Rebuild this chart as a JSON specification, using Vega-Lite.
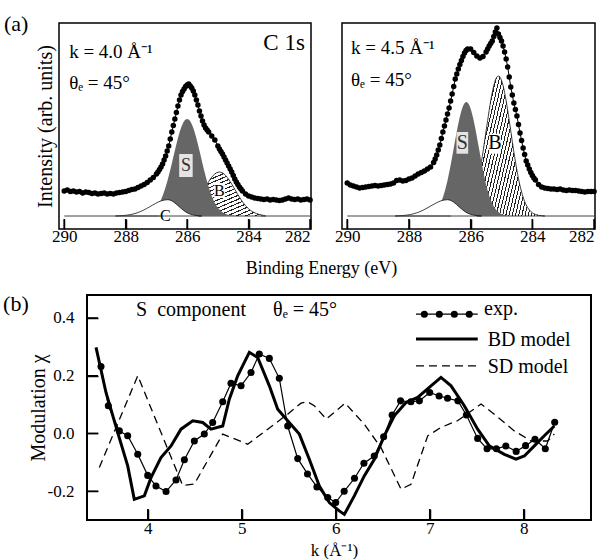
{
  "$schema": "https://vega.github.io/schema/vega-lite/v6.json",
  "background": "white",
  "padding": {"left": 2, "top": 12, "right": 0, "bottom": 0},
  "config": {
    "font": "Liberation Serif",
    "view": {"stroke": "black", "strokeWidth": 1.5},
    "axis": {"labelFont": "Liberation Serif", "titleFont": "Liberation Serif", "labelColor": "black", "titleColor": "black", "tickColor": "black", "titleFontWeight": "normal", "domain": false, "grid": false, "zindex": 1},
    "text": {"font": "Liberation Serif", "fill": "black"}
  },
  "datasets": {
    "a1e": [
      {"e":290.0,"i":38},{"e":289.9,"i":39},{"e":289.8,"i":37.5},{"e":289.7,"i":38},{"e":289.6,"i":37},{"e":289.5,"i":37.5},{"e":289.4,"i":36},{"e":289.3,"i":37},{"e":289.2,"i":36.5},{"e":289.1,"i":35.5},{"e":289.0,"i":36},{"e":288.9,"i":35},{"e":288.8,"i":35.5},{"e":288.7,"i":36},{"e":288.6,"i":35},{"e":288.5,"i":35.5},{"e":288.4,"i":35},{"e":288.3,"i":36},{"e":288.2,"i":36.5},{"e":288.1,"i":37},{"e":288.0,"i":37.5},{"e":287.9,"i":38.5},{"e":287.8,"i":39.5},{"e":287.7,"i":40},{"e":287.6,"i":41.5},{"e":287.5,"i":43},{"e":287.4,"i":44.5},{"e":287.3,"i":46.5},{"e":287.2,"i":49},{"e":287.1,"i":51.5},{"e":287.0,"i":55},{"e":286.95,"i":57},{"e":286.9,"i":59.5},{"e":286.85,"i":62},{"e":286.8,"i":65},{"e":286.75,"i":69},{"e":286.7,"i":73},{"e":286.65,"i":78},{"e":286.6,"i":83},{"e":286.55,"i":90},{"e":286.5,"i":97},{"e":286.45,"i":103.5},{"e":286.4,"i":110},{"e":286.35,"i":116.5},{"e":286.3,"i":123},{"e":286.25,"i":129},{"e":286.2,"i":134},{"e":286.15,"i":137.5},{"e":286.1,"i":140},{"e":286.05,"i":142.5},{"e":286.0,"i":144},{"e":285.95,"i":145},{"e":285.9,"i":143},{"e":285.85,"i":141},{"e":285.8,"i":138},{"e":285.75,"i":134},{"e":285.7,"i":129},{"e":285.65,"i":124},{"e":285.6,"i":118},{"e":285.55,"i":113},{"e":285.5,"i":108},{"e":285.45,"i":104},{"e":285.4,"i":101},{"e":285.35,"i":99},{"e":285.3,"i":97},{"e":285.2,"i":93},{"e":285.1,"i":89},{"e":285.0,"i":83},{"e":284.95,"i":80},{"e":284.9,"i":77.5},{"e":284.85,"i":75},{"e":284.8,"i":72},{"e":284.75,"i":69},{"e":284.7,"i":66},{"e":284.65,"i":63},{"e":284.6,"i":60},{"e":284.55,"i":57},{"e":284.5,"i":53.5},{"e":284.45,"i":50},{"e":284.4,"i":47},{"e":284.35,"i":44.5},{"e":284.3,"i":42},{"e":284.25,"i":40},{"e":284.2,"i":38},{"e":284.1,"i":35},{"e":284.0,"i":33},{"e":283.9,"i":32},{"e":283.8,"i":31},{"e":283.7,"i":30.5},{"e":283.6,"i":30},{"e":283.5,"i":29.5},{"e":283.4,"i":30},{"e":283.3,"i":29},{"e":283.2,"i":29.5},{"e":283.1,"i":29},{"e":283.0,"i":28.5},{"e":282.9,"i":29},{"e":282.8,"i":30},{"e":282.7,"i":31},{"e":282.6,"i":30},{"e":282.5,"i":29.5},{"e":282.4,"i":30},{"e":282.3,"i":29},{"e":282.2,"i":29.5},{"e":282.1,"i":30},{"e":282.0,"i":29}
    ],
    "a2e": [
      {"e":290.0,"i":46},{"e":289.9,"i":44},{"e":289.8,"i":43},{"e":289.7,"i":42},{"e":289.6,"i":41},{"e":289.5,"i":41.5},{"e":289.4,"i":42},{"e":289.3,"i":42.5},{"e":289.2,"i":43},{"e":289.1,"i":43.5},{"e":289.0,"i":43},{"e":288.9,"i":43.5},{"e":288.8,"i":44},{"e":288.7,"i":44.5},{"e":288.6,"i":45},{"e":288.5,"i":46},{"e":288.4,"i":48.5},{"e":288.3,"i":49},{"e":288.2,"i":48},{"e":288.1,"i":48.5},{"e":288.0,"i":50},{"e":287.9,"i":51},{"e":287.8,"i":53},{"e":287.7,"i":55},{"e":287.6,"i":56.5},{"e":287.5,"i":58},{"e":287.4,"i":60},{"e":287.3,"i":62},{"e":287.2,"i":66.5},{"e":287.15,"i":70},{"e":287.1,"i":74},{"e":287.05,"i":79},{"e":287.0,"i":84},{"e":286.95,"i":90.5},{"e":286.9,"i":97},{"e":286.85,"i":103},{"e":286.8,"i":109},{"e":286.75,"i":115},{"e":286.7,"i":121},{"e":286.65,"i":128},{"e":286.6,"i":135},{"e":286.55,"i":142.5},{"e":286.5,"i":150},{"e":286.45,"i":155},{"e":286.4,"i":160},{"e":286.35,"i":164.5},{"e":286.3,"i":168.5},{"e":286.25,"i":172.5},{"e":286.2,"i":176},{"e":286.15,"i":178.5},{"e":286.1,"i":180},{"e":286.0,"i":180},{"e":285.9,"i":176.5},{"e":285.8,"i":173},{"e":285.7,"i":171},{"e":285.6,"i":172.5},{"e":285.5,"i":177},{"e":285.45,"i":180},{"e":285.4,"i":183},{"e":285.35,"i":185.5},{"e":285.3,"i":188},{"e":285.25,"i":192.5},{"e":285.2,"i":197},{"e":285.15,"i":201},{"e":285.1,"i":195},{"e":285.05,"i":191.5},{"e":285.0,"i":188},{"e":284.95,"i":183},{"e":284.9,"i":177},{"e":284.85,"i":170},{"e":284.8,"i":162},{"e":284.75,"i":152},{"e":284.7,"i":142},{"e":284.65,"i":134},{"e":284.6,"i":126},{"e":284.55,"i":119.5},{"e":284.5,"i":113},{"e":284.45,"i":104.5},{"e":284.4,"i":96},{"e":284.35,"i":88.5},{"e":284.3,"i":81},{"e":284.25,"i":74.5},{"e":284.2,"i":68},{"e":284.15,"i":64},{"e":284.1,"i":60},{"e":284.05,"i":56.5},{"e":284.0,"i":53.5},{"e":283.95,"i":51},{"e":283.9,"i":49},{"e":283.8,"i":44.5},{"e":283.7,"i":42},{"e":283.6,"i":41},{"e":283.5,"i":40.5},{"e":283.4,"i":40},{"e":283.3,"i":40},{"e":283.2,"i":39.5},{"e":283.1,"i":40},{"e":283.0,"i":39},{"e":282.9,"i":38.5},{"e":282.8,"i":39},{"e":282.7,"i":38.5},{"e":282.6,"i":38.5},{"e":282.5,"i":38},{"e":282.4,"i":37.5},{"e":282.3,"i":37},{"e":282.2,"i":37.5},{"e":282.1,"i":37.5},{"e":282.0,"i":37.5}
    ],
    "a1c": [
      {"c":"S","e":287.6,"i":13},{"c":"S","e":287.5,"i":13.4},{"c":"S","e":287.4,"i":13.8},{"c":"S","e":287.3,"i":14.5},{"c":"S","e":287.2,"i":15.8},{"c":"S","e":287.1,"i":17.9},{"c":"S","e":287.0,"i":21.2},{"c":"S","e":286.9,"i":26.1},{"c":"S","e":286.8,"i":33},{"c":"S","e":286.7,"i":41.9},{"c":"S","e":286.6,"i":52.9},{"c":"S","e":286.5,"i":65.3},{"c":"S","e":286.4,"i":78.4},{"c":"S","e":286.3,"i":90.7},{"c":"S","e":286.2,"i":100.9},{"c":"S","e":286.1,"i":107.7},{"c":"S","e":286.0,"i":110},{"c":"S","e":285.9,"i":107.7},{"c":"S","e":285.8,"i":100.9},{"c":"S","e":285.7,"i":90.7},{"c":"S","e":285.6,"i":78.4},{"c":"S","e":285.5,"i":65.3},{"c":"S","e":285.4,"i":52.9},{"c":"S","e":285.3,"i":41.9},{"c":"S","e":285.2,"i":33},{"c":"S","e":285.1,"i":26.1},{"c":"S","e":285.0,"i":21.2},{"c":"S","e":284.9,"i":17.9},{"c":"S","e":284.8,"i":15.8},{"c":"S","e":284.7,"i":14.5},{"c":"S","e":284.6,"i":13.8},{"c":"S","e":284.5,"i":13.4},{"c":"S","e":284.4,"i":13},
      {"c":"B","e":285.65,"i":29.5},{"c":"B","e":285.55,"i":34.4},{"c":"B","e":285.45,"i":39.7},{"c":"B","e":285.35,"i":44.9},{"c":"B","e":285.25,"i":49.7},{"c":"B","e":285.15,"i":53.6},{"c":"B","e":285.05,"i":56.1},{"c":"B","e":284.95,"i":57},{"c":"B","e":284.85,"i":56.1},{"c":"B","e":284.75,"i":53.6},{"c":"B","e":284.65,"i":49.7},{"c":"B","e":284.55,"i":44.9},{"c":"B","e":284.45,"i":39.7},{"c":"B","e":284.35,"i":34.4},{"c":"B","e":284.25,"i":29.5},{"c":"B","e":284.15,"i":25.2},{"c":"B","e":284.05,"i":21.7},{"c":"B","e":283.95,"i":18.9},{"c":"B","e":283.85,"i":16.9},{"c":"B","e":283.75,"i":15.5},{"c":"B","e":283.65,"i":14.5},{"c":"B","e":283.55,"i":13.9},{"c":"B","e":283.45,"i":13},
      {"c":"C","e":288.33,"i":13},{"c":"C","e":288.23,"i":13.2},{"c":"C","e":288.13,"i":13.4},{"c":"C","e":288.03,"i":13.6},{"c":"C","e":287.93,"i":14.0},{"c":"C","e":287.83,"i":14.5},{"c":"C","e":287.73,"i":15.2},{"c":"C","e":287.63,"i":16.1},{"c":"C","e":287.53,"i":17.3},{"c":"C","e":287.43,"i":18.7},{"c":"C","e":287.33,"i":20.3},{"c":"C","e":287.23,"i":22.0},{"c":"C","e":287.13,"i":23.8},{"c":"C","e":287.03,"i":25.5},{"c":"C","e":286.93,"i":27.1},{"c":"C","e":286.83,"i":28.3},{"c":"C","e":286.73,"i":29.0},{"c":"C","e":286.63,"i":29.3},{"c":"C","e":286.53,"i":28.6},{"c":"C","e":286.43,"i":26.8},{"c":"C","e":286.33,"i":24.3},{"c":"C","e":286.23,"i":21.5},{"c":"C","e":286.13,"i":18.9},{"c":"C","e":286.03,"i":16.7},{"c":"C","e":285.93,"i":15.2},{"c":"C","e":285.83,"i":14.2},{"c":"C","e":285.73,"i":13.6},{"c":"C","e":285.63,"i":13.3},{"c":"C","e":285.53,"i":13}
    ],
    "a2c": [
      {"c":"S","e":287.64,"i":13},{"c":"S","e":287.54,"i":13.3},{"c":"S","e":287.44,"i":13.6},{"c":"S","e":287.34,"i":14.3},{"c":"S","e":287.24,"i":15.6},{"c":"S","e":287.14,"i":18},{"c":"S","e":287.04,"i":22.1},{"c":"S","e":286.94,"i":28.4},{"c":"S","e":286.84,"i":37.6},{"c":"S","e":286.74,"i":50.1},{"c":"S","e":286.64,"i":65.2},{"c":"S","e":286.54,"i":82.2},{"c":"S","e":286.44,"i":99.1},{"c":"S","e":286.34,"i":113.5},{"c":"S","e":286.24,"i":123.5},{"c":"S","e":286.14,"i":127},{"c":"S","e":286.04,"i":123.5},{"c":"S","e":285.94,"i":113.5},{"c":"S","e":285.84,"i":99.1},{"c":"S","e":285.74,"i":82.2},{"c":"S","e":285.64,"i":65.2},{"c":"S","e":285.54,"i":50.1},{"c":"S","e":285.44,"i":37.6},{"c":"S","e":285.34,"i":28.4},{"c":"S","e":285.24,"i":22.1},{"c":"S","e":285.14,"i":18},{"c":"S","e":285.04,"i":15.6},{"c":"S","e":284.94,"i":14.3},{"c":"S","e":284.84,"i":13.6},{"c":"S","e":284.74,"i":13.3},{"c":"S","e":284.64,"i":13},
      {"c":"B","e":285.8,"i":43.2},{"c":"B","e":285.7,"i":58.5},{"c":"B","e":285.6,"i":77.1},{"c":"B","e":285.5,"i":98},{"c":"B","e":285.4,"i":118.7},{"c":"B","e":285.3,"i":136.5},{"c":"B","e":285.2,"i":148.7},{"c":"B","e":285.1,"i":153},{"c":"B","e":285.0,"i":148.7},{"c":"B","e":284.9,"i":136.5},{"c":"B","e":284.8,"i":118.7},{"c":"B","e":284.7,"i":98},{"c":"B","e":284.6,"i":77.1},{"c":"B","e":284.5,"i":58.5},{"c":"B","e":284.4,"i":43.2},{"c":"B","e":284.3,"i":31.9},{"c":"B","e":284.2,"i":24.1},{"c":"B","e":284.1,"i":19.1},{"c":"B","e":284.0,"i":16.2},{"c":"B","e":283.9,"i":14.6},{"c":"B","e":283.8,"i":13.7},{"c":"B","e":283.7,"i":13.3},{"c":"B","e":283.6,"i":13},
      {"c":"C","e":288.45,"i":13},{"c":"C","e":288.35,"i":13.2},{"c":"C","e":288.25,"i":13.4},{"c":"C","e":288.15,"i":13.6},{"c":"C","e":288.05,"i":14.0},{"c":"C","e":287.95,"i":14.5},{"c":"C","e":287.85,"i":15.2},{"c":"C","e":287.75,"i":16.1},{"c":"C","e":287.65,"i":17.3},{"c":"C","e":287.55,"i":18.7},{"c":"C","e":287.45,"i":20.3},{"c":"C","e":287.35,"i":22.0},{"c":"C","e":287.25,"i":23.8},{"c":"C","e":287.15,"i":25.5},{"c":"C","e":287.05,"i":27.1},{"c":"C","e":286.95,"i":28.3},{"c":"C","e":286.85,"i":29.0},{"c":"C","e":286.75,"i":29.3},{"c":"C","e":286.65,"i":28.6},{"c":"C","e":286.55,"i":26.8},{"c":"C","e":286.45,"i":24.3},{"c":"C","e":286.35,"i":21.5},{"c":"C","e":286.25,"i":18.9},{"c":"C","e":286.15,"i":16.7},{"c":"C","e":286.05,"i":15.2},{"c":"C","e":285.95,"i":14.2},{"c":"C","e":285.85,"i":13.6},{"c":"C","e":285.75,"i":13.3},{"c":"C","e":285.65,"i":13}
    ],
    "a1base": [{"e1":290.0,"e2":286.9},{"e1":283.6,"e2":281.98}],
    "a2base": [{"e1":290.0,"e2":286.64},{"e1":283.65,"e2":281.98}],
    "aticks": [{"v":290},{"v":288},{"v":286},{"v":284},{"v":282}],
    "bxticks": [{"v":4},{"v":5},{"v":6},{"v":7},{"v":8}],
    "byticks": [{"v":-0.2},{"v":0},{"v":0.2},{"v":0.4}],
    "b": [
      {"s":"exp","k":3.503,"chi":0.232},{"s":"exp","k":3.581,"chi":0.096},{"s":"exp","k":3.698,"chi":0.009},{"s":"exp","k":3.787,"chi":-0.008},{"s":"exp","k":3.894,"chi":-0.072},{"s":"exp","k":4.0,"chi":-0.145},{"s":"exp","k":4.088,"chi":-0.182},{"s":"exp","k":4.195,"chi":-0.201},{"s":"exp","k":4.301,"chi":-0.161},{"s":"exp","k":4.39,"chi":-0.091},{"s":"exp","k":4.496,"chi":-0.026},{"s":"exp","k":4.602,"chi":-0.002},{"s":"exp","k":4.691,"chi":0.038},{"s":"exp","k":4.798,"chi":0.110},{"s":"exp","k":4.886,"chi":0.174},{"s":"exp","k":4.993,"chi":0.165},{"s":"exp","k":5.099,"chi":0.211},{"s":"exp","k":5.187,"chi":0.275},{"s":"exp","k":5.294,"chi":0.260},{"s":"exp","k":5.40,"chi":0.191},{"s":"exp","k":5.489,"chi":0.026},{"s":"exp","k":5.596,"chi":-0.087},{"s":"exp","k":5.70,"chi":-0.140},{"s":"exp","k":5.80,"chi":-0.185},{"s":"exp","k":5.915,"chi":-0.222},{"s":"exp","k":6.0,"chi":-0.239},{"s":"exp","k":6.09,"chi":-0.200},{"s":"exp","k":6.2,"chi":-0.155},{"s":"exp","k":6.3,"chi":-0.103},{"s":"exp","k":6.41,"chi":-0.078},{"s":"exp","k":6.51,"chi":-0.011},{"s":"exp","k":6.6,"chi":0.064},{"s":"exp","k":6.69,"chi":0.113},{"s":"exp","k":6.80,"chi":0.110},{"s":"exp","k":6.89,"chi":0.113},{"s":"exp","k":7.0,"chi":0.142},{"s":"exp","k":7.1,"chi":0.130},{"s":"exp","k":7.19,"chi":0.122},{"s":"exp","k":7.3,"chi":0.113},{"s":"exp","k":7.39,"chi":0.064},{"s":"exp","k":7.51,"chi":-0.017},{"s":"exp","k":7.61,"chi":-0.053},{"s":"exp","k":7.71,"chi":-0.053},{"s":"exp","k":7.81,"chi":-0.043},{"s":"exp","k":7.92,"chi":-0.062},{"s":"exp","k":8.02,"chi":-0.042},{"s":"exp","k":8.12,"chi":-0.020},{"s":"exp","k":8.23,"chi":-0.053},{"s":"exp","k":8.33,"chi":0.039},
      {"s":"BD","k":3.45,"chi":0.298},{"s":"BD","k":3.556,"chi":0.142},{"s":"BD","k":3.681,"chi":0.003},{"s":"BD","k":3.787,"chi":-0.112},{"s":"BD","k":3.857,"chi":-0.228},{"s":"BD","k":3.964,"chi":-0.216},{"s":"BD","k":4.035,"chi":-0.153},{"s":"BD","k":4.141,"chi":-0.083},{"s":"BD","k":4.248,"chi":-0.043},{"s":"BD","k":4.354,"chi":0.015},{"s":"BD","k":4.479,"chi":0.044},{"s":"BD","k":4.585,"chi":0.038},{"s":"BD","k":4.673,"chi":0.015},{"s":"BD","k":4.798,"chi":0.026},{"s":"BD","k":4.868,"chi":0.119},{"s":"BD","k":4.957,"chi":0.200},{"s":"BD","k":5.081,"chi":0.281},{"s":"BD","k":5.17,"chi":0.263},{"s":"BD","k":5.294,"chi":0.165},{"s":"BD","k":5.383,"chi":0.084},{"s":"BD","k":5.489,"chi":0.044},{"s":"BD","k":5.613,"chi":-0.002},{"s":"BD","k":5.719,"chi":-0.089},{"s":"BD","k":5.826,"chi":-0.182},{"s":"BD","k":5.932,"chi":-0.239},{"s":"BD","k":6.038,"chi":-0.268},{"s":"BD","k":6.092,"chi":-0.280},{"s":"BD","k":6.198,"chi":-0.216},{"s":"BD","k":6.304,"chi":-0.147},{"s":"BD","k":6.411,"chi":-0.089},{"s":"BD","k":6.517,"chi":-0.008},{"s":"BD","k":6.623,"chi":0.061},{"s":"BD","k":6.748,"chi":0.107},{"s":"BD","k":6.872,"chi":0.125},{"s":"BD","k":7.014,"chi":0.165},{"s":"BD","k":7.12,"chi":0.194},{"s":"BD","k":7.227,"chi":0.165},{"s":"BD","k":7.368,"chi":0.096},{"s":"BD","k":7.51,"chi":0.015},{"s":"BD","k":7.634,"chi":-0.043},{"s":"BD","k":7.794,"chi":-0.072},{"s":"BD","k":7.918,"chi":-0.089},{"s":"BD","k":8.007,"chi":-0.078},{"s":"BD","k":8.113,"chi":-0.043},{"s":"BD","k":8.219,"chi":-0.008},{"s":"BD","k":8.326,"chi":0.026},
      {"s":"SD","k":3.485,"chi":-0.118},{"s":"SD","k":3.894,"chi":0.200},{"s":"SD","k":4.372,"chi":-0.180},{"s":"SD","k":4.496,"chi":-0.175},{"s":"SD","k":4.798,"chi":-0.002},{"s":"SD","k":5.064,"chi":-0.037},{"s":"SD","k":5.277,"chi":0.015},{"s":"SD","k":5.489,"chi":0.067},{"s":"SD","k":5.631,"chi":0.105},{"s":"SD","k":5.70,"chi":0.110},{"s":"SD","k":5.772,"chi":0.096},{"s":"SD","k":5.90,"chi":0.050},{"s":"SD","k":6.10,"chi":0.105},{"s":"SD","k":6.304,"chi":0.032},{"s":"SD","k":6.482,"chi":-0.049},{"s":"SD","k":6.695,"chi":-0.193},{"s":"SD","k":6.801,"chi":-0.176},{"s":"SD","k":6.979,"chi":-0.008},{"s":"SD","k":7.12,"chi":0.021},{"s":"SD","k":7.30,"chi":0.045},{"s":"SD","k":7.546,"chi":0.102},{"s":"SD","k":7.687,"chi":0.067},{"s":"SD","k":7.90,"chi":0.009},{"s":"SD","k":8.078,"chi":-0.026},{"s":"SD","k":8.255,"chi":-0.026},{"s":"SD","k":8.326,"chi":-0.002}
    ],
    "legdots": [{"k":6.943},{"k":7.102},{"k":7.262},{"k":7.421}]
  },
  "spacing": 14,
  "vconcat": [
    {
      "bounds": "flush",
      "spacing": 31,
      "hconcat": [
        {
          "width": 252, "height": 206,
          "layer": [
            {
              "data": {"name": "a1c"}, "transform": [{"filter": "datum.c == 'B'"}],
              "mark": {"type": "area", "interpolate": "monotone", "stroke": "#111", "strokeWidth": 0.8,
                "fill": {"gradient": "linear", "x1": 0, "y1": 0, "x2": 0.825, "y2": 1.268, "stops": [
                  {"offset":0,"color":"#222"},{"offset":0.015,"color":"#222"},{"offset":0.015,"color":"#fff"},{"offset":0.05,"color":"#fff"},
                  {"offset":0.05,"color":"#222"},{"offset":0.065,"color":"#222"},{"offset":0.065,"color":"#fff"},{"offset":0.1,"color":"#fff"},
                  {"offset":0.1,"color":"#222"},{"offset":0.115,"color":"#222"},{"offset":0.115,"color":"#fff"},{"offset":0.15,"color":"#fff"},
                  {"offset":0.15,"color":"#222"},{"offset":0.165,"color":"#222"},{"offset":0.165,"color":"#fff"},{"offset":0.2,"color":"#fff"},
                  {"offset":0.2,"color":"#222"},{"offset":0.215,"color":"#222"},{"offset":0.215,"color":"#fff"},{"offset":0.25,"color":"#fff"},
                  {"offset":0.25,"color":"#222"},{"offset":0.265,"color":"#222"},{"offset":0.265,"color":"#fff"},{"offset":0.3,"color":"#fff"},
                  {"offset":0.3,"color":"#222"},{"offset":0.315,"color":"#222"},{"offset":0.315,"color":"#fff"},{"offset":0.35,"color":"#fff"},
                  {"offset":0.35,"color":"#222"},{"offset":0.365,"color":"#222"},{"offset":0.365,"color":"#fff"},{"offset":0.4,"color":"#fff"},
                  {"offset":0.4,"color":"#222"},{"offset":0.415,"color":"#222"},{"offset":0.415,"color":"#fff"},{"offset":0.45,"color":"#fff"},
                  {"offset":0.45,"color":"#222"},{"offset":0.465,"color":"#222"},{"offset":0.465,"color":"#fff"},{"offset":0.5,"color":"#fff"},
                  {"offset":0.5,"color":"#222"},{"offset":0.515,"color":"#222"},{"offset":0.515,"color":"#fff"},{"offset":0.55,"color":"#fff"},
                  {"offset":0.55,"color":"#222"},{"offset":0.565,"color":"#222"},{"offset":0.565,"color":"#fff"},{"offset":0.6,"color":"#fff"},
                  {"offset":0.6,"color":"#222"},{"offset":0.615,"color":"#222"},{"offset":0.615,"color":"#fff"},{"offset":0.65,"color":"#fff"},
                  {"offset":0.65,"color":"#222"},{"offset":0.665,"color":"#222"},{"offset":0.665,"color":"#fff"},{"offset":0.7,"color":"#fff"},
                  {"offset":0.7,"color":"#222"},{"offset":0.715,"color":"#222"},{"offset":0.715,"color":"#fff"},{"offset":0.75,"color":"#fff"},
                  {"offset":0.75,"color":"#222"},{"offset":0.765,"color":"#222"},{"offset":0.765,"color":"#fff"},{"offset":0.8,"color":"#fff"},
                  {"offset":0.8,"color":"#222"},{"offset":0.815,"color":"#222"},{"offset":0.815,"color":"#fff"},{"offset":0.85,"color":"#fff"},
                  {"offset":0.85,"color":"#222"},{"offset":0.865,"color":"#222"},{"offset":0.865,"color":"#fff"},{"offset":0.9,"color":"#fff"},
                  {"offset":0.9,"color":"#222"},{"offset":0.915,"color":"#222"},{"offset":0.915,"color":"#fff"},{"offset":0.95,"color":"#fff"},
                  {"offset":0.95,"color":"#222"},{"offset":0.965,"color":"#222"},{"offset":0.965,"color":"#fff"},{"offset":1,"color":"#fff"}
                ]}},
              "encoding": {
                "x": {"field": "e", "type": "quantitative", "scale": {"domain": [290.17, 281.97], "nice": false, "zero": false},
                  "axis": {"values": [290, 288, 286, 284, 282], "format": "d", "tickSize": -10, "tickWidth": 1.5, "labelPadding": 9, "labelFontSize": 17, "title": "Binding Energy (eV)", "titleFontSize": 18, "titleX": 262, "titleY": 44, "titleAlign": "center", "titleBaseline": "alphabetic"}},
                "y": {"field": "i", "type": "quantitative", "scale": {"domain": [0, 206], "nice": false, "zero": false},
                  "axis": {"labels": false, "ticks": false, "title": "Intensity (arb. units)", "titleFontSize": 20, "titleX": -8, "titleY": 103, "titleAngle": -90, "titleAlign": "center", "titleBaseline": "alphabetic"}},
                "y2": {"datum": 13}
              }
            },
            {
              "data": {"name": "a1c"}, "transform": [{"filter": "datum.c == 'S'"}],
              "mark": {"type": "area", "interpolate": "monotone", "fill": "#666666"},
              "encoding": {"x": {"field": "e", "type": "quantitative"}, "y": {"field": "i", "type": "quantitative"}, "y2": {"datum": 13}}
            },
            {
              "data": {"name": "a1c"}, "transform": [{"filter": "datum.c == 'C'"}],
              "mark": {"type": "area", "interpolate": "monotone", "fill": "white", "stroke": "#111", "strokeWidth": 0.8},
              "encoding": {"x": {"field": "e", "type": "quantitative"}, "y": {"field": "i", "type": "quantitative"}, "y2": {"datum": 13}}
            },
            {
              "data": {"name": "a1base"},
              "mark": {"type": "rule", "stroke": "#444", "strokeWidth": 1},
              "encoding": {"x": {"field": "e1", "type": "quantitative"}, "x2": {"field": "e2"}, "y": {"datum": 13}}
            },
            {
              "data": {"name": "aticks"},
              "mark": {"type": "rule", "stroke": "black", "strokeWidth": 1.5},
              "encoding": {"x": {"field": "v", "type": "quantitative"}, "y": {"datum": 0}, "y2": {"datum": 10}}
            },
            {
              "data": {"values": [{}]},
              "mark": {"type": "rect", "fill": "#e4e4e4"},
              "encoding": {"x": {"datum": 286.26}, "x2": {"datum": 285.82}, "y": {"datum": 52}, "y2": {"datum": 75}}
            },
            {
              "data": {"values": [{}]},
              "mark": {"type": "text", "text": "S", "fontSize": 18, "fill": "#333", "align": "center", "baseline": "middle"},
              "encoding": {"x": {"datum": 286.04}, "y": {"datum": 63.5}}
            },
            {
              "data": {"values": [{}]},
              "mark": {"type": "rect", "fill": "white"},
              "encoding": {"x": {"datum": 285.12}, "x2": {"datum": 284.77}, "y": {"datum": 31}, "y2": {"datum": 46}}
            },
            {
              "data": {"values": [{}]},
              "mark": {"type": "text", "text": "B", "fontSize": 16, "align": "center", "baseline": "middle"},
              "encoding": {"x": {"datum": 284.95}, "y": {"datum": 38.5}}
            },
            {
              "data": {"values": [{}]},
              "mark": {"type": "text", "text": "C", "fontSize": 16, "align": "left", "baseline": "middle"},
              "encoding": {"x": {"datum": 286.88}, "y": {"datum": 13.5}}
            },
            {
              "data": {"name": "a1e"},
              "mark": {"type": "line", "stroke": "black", "strokeWidth": 1},
              "encoding": {"x": {"field": "e", "type": "quantitative"}, "y": {"field": "i", "type": "quantitative"}}
            },
            {
              "data": {"name": "a1e"},
              "mark": {"type": "point", "filled": true, "fill": "black", "size": 30, "opacity": 1},
              "encoding": {"x": {"field": "e", "type": "quantitative"}, "y": {"field": "i", "type": "quantitative"}}
            },
            {
              "data": {"values": [{}]},
              "mark": {"type": "text", "text": "k = 4.0 Å⁻¹", "fontSize": 19, "align": "left", "baseline": "alphabetic"},
              "encoding": {"x": {"datum": 289.84}, "y": {"datum": 171}}
            },
            {
              "data": {"values": [{}]},
              "mark": {"type": "text", "text": "θₑ = 45°", "fontSize": 19, "align": "left", "baseline": "alphabetic"},
              "encoding": {"x": {"datum": 289.84}, "y": {"datum": 140}}
            },
            {
              "data": {"values": [{}]},
              "mark": {"type": "text", "text": "C 1s", "fontSize": 23, "align": "right", "baseline": "alphabetic"},
              "encoding": {"x": {"datum": 282.17}, "y": {"datum": 179}}
            },
            {
              "data": {"values": [{}]},
              "mark": {"type": "text", "text": "(a)", "fontSize": 22, "align": "left", "baseline": "alphabetic"},
              "encoding": {"x": {"datum": 291.96}, "y": {"datum": 198}}
            }
          ]
        },
        {
          "width": 253, "height": 206,
          "layer": [
            {
              "data": {"name": "a2c"}, "transform": [{"filter": "datum.c == 'B'"}],
              "mark": {"type": "area", "interpolate": "monotone", "stroke": "#111", "strokeWidth": 0.8,
                "fill": {"gradient": "linear", "x1": 0, "y1": 0, "x2": 1.536, "y2": 0.741, "stops": [
                  {"offset":0,"color":"#222"},{"offset":0.008,"color":"#222"},{"offset":0.008,"color":"#fff"},{"offset":0.025,"color":"#fff"},
                  {"offset":0.025,"color":"#222"},{"offset":0.033,"color":"#222"},{"offset":0.033,"color":"#fff"},{"offset":0.05,"color":"#fff"},
                  {"offset":0.05,"color":"#222"},{"offset":0.058,"color":"#222"},{"offset":0.058,"color":"#fff"},{"offset":0.075,"color":"#fff"},
                  {"offset":0.075,"color":"#222"},{"offset":0.083,"color":"#222"},{"offset":0.083,"color":"#fff"},{"offset":0.1,"color":"#fff"},
                  {"offset":0.1,"color":"#222"},{"offset":0.108,"color":"#222"},{"offset":0.108,"color":"#fff"},{"offset":0.125,"color":"#fff"},
                  {"offset":0.125,"color":"#222"},{"offset":0.133,"color":"#222"},{"offset":0.133,"color":"#fff"},{"offset":0.15,"color":"#fff"},
                  {"offset":0.15,"color":"#222"},{"offset":0.158,"color":"#222"},{"offset":0.158,"color":"#fff"},{"offset":0.175,"color":"#fff"},
                  {"offset":0.175,"color":"#222"},{"offset":0.183,"color":"#222"},{"offset":0.183,"color":"#fff"},{"offset":0.2,"color":"#fff"},
                  {"offset":0.2,"color":"#222"},{"offset":0.208,"color":"#222"},{"offset":0.208,"color":"#fff"},{"offset":0.225,"color":"#fff"},
                  {"offset":0.225,"color":"#222"},{"offset":0.233,"color":"#222"},{"offset":0.233,"color":"#fff"},{"offset":0.25,"color":"#fff"},
                  {"offset":0.25,"color":"#222"},{"offset":0.258,"color":"#222"},{"offset":0.258,"color":"#fff"},{"offset":0.275,"color":"#fff"},
                  {"offset":0.275,"color":"#222"},{"offset":0.283,"color":"#222"},{"offset":0.283,"color":"#fff"},{"offset":0.3,"color":"#fff"},
                  {"offset":0.3,"color":"#222"},{"offset":0.308,"color":"#222"},{"offset":0.308,"color":"#fff"},{"offset":0.325,"color":"#fff"},
                  {"offset":0.325,"color":"#222"},{"offset":0.333,"color":"#222"},{"offset":0.333,"color":"#fff"},{"offset":0.35,"color":"#fff"},
                  {"offset":0.35,"color":"#222"},{"offset":0.358,"color":"#222"},{"offset":0.358,"color":"#fff"},{"offset":0.375,"color":"#fff"},
                  {"offset":0.375,"color":"#222"},{"offset":0.383,"color":"#222"},{"offset":0.383,"color":"#fff"},{"offset":0.4,"color":"#fff"},
                  {"offset":0.4,"color":"#222"},{"offset":0.408,"color":"#222"},{"offset":0.408,"color":"#fff"},{"offset":0.425,"color":"#fff"},
                  {"offset":0.425,"color":"#222"},{"offset":0.433,"color":"#222"},{"offset":0.433,"color":"#fff"},{"offset":0.45,"color":"#fff"},
                  {"offset":0.45,"color":"#222"},{"offset":0.458,"color":"#222"},{"offset":0.458,"color":"#fff"},{"offset":0.475,"color":"#fff"},
                  {"offset":0.475,"color":"#222"},{"offset":0.483,"color":"#222"},{"offset":0.483,"color":"#fff"},{"offset":0.5,"color":"#fff"},
                  {"offset":0.5,"color":"#222"},{"offset":0.508,"color":"#222"},{"offset":0.508,"color":"#fff"},{"offset":0.525,"color":"#fff"},
                  {"offset":0.525,"color":"#222"},{"offset":0.533,"color":"#222"},{"offset":0.533,"color":"#fff"},{"offset":0.55,"color":"#fff"},
                  {"offset":0.55,"color":"#222"},{"offset":0.558,"color":"#222"},{"offset":0.558,"color":"#fff"},{"offset":0.575,"color":"#fff"},
                  {"offset":0.575,"color":"#222"},{"offset":0.583,"color":"#222"},{"offset":0.583,"color":"#fff"},{"offset":0.6,"color":"#fff"},
                  {"offset":0.6,"color":"#222"},{"offset":0.608,"color":"#222"},{"offset":0.608,"color":"#fff"},{"offset":0.625,"color":"#fff"},
                  {"offset":0.625,"color":"#222"},{"offset":0.633,"color":"#222"},{"offset":0.633,"color":"#fff"},{"offset":0.65,"color":"#fff"},
                  {"offset":0.65,"color":"#222"},{"offset":0.658,"color":"#222"},{"offset":0.658,"color":"#fff"},{"offset":0.675,"color":"#fff"},
                  {"offset":0.675,"color":"#222"},{"offset":0.683,"color":"#222"},{"offset":0.683,"color":"#fff"},{"offset":0.7,"color":"#fff"},
                  {"offset":0.7,"color":"#222"},{"offset":0.708,"color":"#222"},{"offset":0.708,"color":"#fff"},{"offset":0.725,"color":"#fff"},
                  {"offset":0.725,"color":"#222"},{"offset":0.733,"color":"#222"},{"offset":0.733,"color":"#fff"},{"offset":0.75,"color":"#fff"},
                  {"offset":0.75,"color":"#222"},{"offset":0.758,"color":"#222"},{"offset":0.758,"color":"#fff"},{"offset":0.775,"color":"#fff"},
                  {"offset":0.775,"color":"#222"},{"offset":0.783,"color":"#222"},{"offset":0.783,"color":"#fff"},{"offset":0.8,"color":"#fff"},
                  {"offset":0.8,"color":"#222"},{"offset":0.808,"color":"#222"},{"offset":0.808,"color":"#fff"},{"offset":0.825,"color":"#fff"},
                  {"offset":0.825,"color":"#222"},{"offset":0.833,"color":"#222"},{"offset":0.833,"color":"#fff"},{"offset":0.85,"color":"#fff"},
                  {"offset":0.85,"color":"#222"},{"offset":0.858,"color":"#222"},{"offset":0.858,"color":"#fff"},{"offset":0.875,"color":"#fff"},
                  {"offset":0.875,"color":"#222"},{"offset":0.883,"color":"#222"},{"offset":0.883,"color":"#fff"},{"offset":0.9,"color":"#fff"},
                  {"offset":0.9,"color":"#222"},{"offset":0.908,"color":"#222"},{"offset":0.908,"color":"#fff"},{"offset":0.925,"color":"#fff"},
                  {"offset":0.925,"color":"#222"},{"offset":0.933,"color":"#222"},{"offset":0.933,"color":"#fff"},{"offset":0.95,"color":"#fff"},
                  {"offset":0.95,"color":"#222"},{"offset":0.958,"color":"#222"},{"offset":0.958,"color":"#fff"},{"offset":0.975,"color":"#fff"},
                  {"offset":0.975,"color":"#222"},{"offset":0.983,"color":"#222"},{"offset":0.983,"color":"#fff"},{"offset":1,"color":"#fff"}
                ]}},
              "encoding": {
                "x": {"field": "e", "type": "quantitative", "scale": {"domain": [290.17, 281.97], "nice": false, "zero": false},
                  "axis": {"values": [290, 288, 286, 284, 282], "format": "d", "tickSize": -10, "tickWidth": 1.5, "labelPadding": 9, "labelFontSize": 17, "title": null}},
                "y": {"field": "i", "type": "quantitative", "scale": {"domain": [0, 206], "nice": false, "zero": false},
                  "axis": {"labels": false, "ticks": false, "title": null}},
                "y2": {"datum": 13}
              }
            },
            {
              "data": {"name": "a2c"}, "transform": [{"filter": "datum.c == 'S'"}],
              "mark": {"type": "area", "interpolate": "monotone", "fill": "#666666"},
              "encoding": {"x": {"field": "e", "type": "quantitative"}, "y": {"field": "i", "type": "quantitative"}, "y2": {"datum": 13}}
            },
            {
              "data": {"name": "a2c"}, "transform": [{"filter": "datum.c == 'C'"}],
              "mark": {"type": "area", "interpolate": "monotone", "fill": "white", "stroke": "#111", "strokeWidth": 0.8},
              "encoding": {"x": {"field": "e", "type": "quantitative"}, "y": {"field": "i", "type": "quantitative"}, "y2": {"datum": 13}}
            },
            {
              "data": {"name": "a2base"},
              "mark": {"type": "rule", "stroke": "#444", "strokeWidth": 1},
              "encoding": {"x": {"field": "e1", "type": "quantitative"}, "x2": {"field": "e2"}, "y": {"datum": 13}}
            },
            {
              "data": {"name": "aticks"},
              "mark": {"type": "rule", "stroke": "black", "strokeWidth": 1.5},
              "encoding": {"x": {"field": "v", "type": "quantitative"}, "y": {"datum": 0}, "y2": {"datum": 10}}
            },
            {
              "data": {"values": [{}]},
              "mark": {"type": "rect", "fill": "#e4e4e4"},
              "encoding": {"x": {"datum": 286.46}, "x2": {"datum": 286.08}, "y": {"datum": 75.3}, "y2": {"datum": 97}}
            },
            {
              "data": {"values": [{}]},
              "mark": {"type": "text", "text": "S", "fontSize": 20, "fill": "#333", "align": "center", "baseline": "middle"},
              "encoding": {"x": {"datum": 286.27}, "y": {"datum": 86.3}}
            },
            {
              "data": {"values": [{}]},
              "mark": {"type": "rect", "fill": "white"},
              "encoding": {"x": {"datum": 285.4}, "x2": {"datum": 285.02}, "y": {"datum": 75.3}, "y2": {"datum": 95.3}}
            },
            {
              "data": {"values": [{}]},
              "mark": {"type": "text", "text": "B", "fontSize": 20, "align": "center", "baseline": "middle"},
              "encoding": {"x": {"datum": 285.21}, "y": {"datum": 86}}
            },
            {
              "data": {"name": "a2e"},
              "mark": {"type": "line", "stroke": "black", "strokeWidth": 1},
              "encoding": {"x": {"field": "e", "type": "quantitative"}, "y": {"field": "i", "type": "quantitative"}}
            },
            {
              "data": {"name": "a2e"},
              "mark": {"type": "point", "filled": true, "fill": "black", "size": 30, "opacity": 1},
              "encoding": {"x": {"field": "e", "type": "quantitative"}, "y": {"field": "i", "type": "quantitative"}}
            },
            {
              "data": {"values": [{}]},
              "mark": {"type": "text", "text": "k = 4.5 Å⁻¹", "fontSize": 19, "align": "left", "baseline": "alphabetic"},
              "encoding": {"x": {"datum": 289.88}, "y": {"datum": 175}}
            },
            {
              "data": {"values": [{}]},
              "mark": {"type": "text", "text": "θₑ = 45°", "fontSize": 19, "align": "left", "baseline": "alphabetic"},
              "encoding": {"x": {"datum": 289.88}, "y": {"datum": 143}}
            }
          ]
        }
      ]
    },
    {
      "bounds": "flush",
      "spacing": 0,
      "hconcat": [
        {
          "width": 28, "height": 10,
          "view": {"stroke": null},
          "data": {"values": [{}]},
          "mark": {"type": "text"},
          "encoding": {"text": {"value": ""}}
        },
        {
          "width": 504, "height": 225,
          "view": {"stroke": "black", "strokeWidth": 2},
          "layer": [
            {
              "data": {"name": "b"}, "transform": [{"filter": "datum.s == 'SD'"}],
              "mark": {"type": "line", "stroke": "black", "strokeWidth": 1.3, "strokeDash": [8, 5]},
              "encoding": {
                "x": {"field": "k", "type": "quantitative", "scale": {"domain": [3.354, 8.716], "nice": false, "zero": false},
                  "axis": {"values": [4, 5, 6, 7, 8], "format": "d", "tickSize": -11, "tickWidth": 1.5, "labelPadding": 11, "labelFontSize": 17, "title": "k (Å⁻¹)", "titleFontSize": 17, "titleX": 247, "titleY": 35, "titleAlign": "center", "titleBaseline": "alphabetic"}},
                "y": {"field": "chi", "type": "quantitative", "scale": {"domain": [-0.2995, 0.4795], "nice": false, "zero": false},
                  "axis": {"values": [-0.2, 0, 0.2, 0.4], "format": ".1f", "labelExpr": "replace(datum.label, '−', '-')", "tickSize": -11, "tickWidth": 1.5, "labelPadding": 24, "labelFontSize": 17, "title": "Modulation χ", "titleFontSize": 20, "titleX": -43, "titleY": 112.5, "titleAngle": -90, "titleAlign": "center", "titleBaseline": "alphabetic"}}
              }
            },
            {
              "data": {"name": "b"}, "transform": [{"filter": "datum.s == 'BD'"}],
              "mark": {"type": "line", "stroke": "black", "strokeWidth": 3},
              "encoding": {"x": {"field": "k", "type": "quantitative"}, "y": {"field": "chi", "type": "quantitative"}}
            },
            {
              "data": {"name": "b"}, "transform": [{"filter": "datum.s == 'exp'"}],
              "mark": {"type": "line", "stroke": "black", "strokeWidth": 1.2},
              "encoding": {"x": {"field": "k", "type": "quantitative"}, "y": {"field": "chi", "type": "quantitative"}}
            },
            {
              "data": {"name": "b"}, "transform": [{"filter": "datum.s == 'exp'"}],
              "mark": {"type": "point", "filled": true, "fill": "black", "size": 50, "opacity": 1},
              "encoding": {"x": {"field": "k", "type": "quantitative"}, "y": {"field": "chi", "type": "quantitative"}}
            },
            {
              "data": {"name": "bxticks"},
              "mark": {"type": "rule", "stroke": "black", "strokeWidth": 1.5},
              "encoding": {"x": {"field": "v", "type": "quantitative"}, "y": {"datum": -0.2995}, "y2": {"datum": -0.2614}}
            },
            {
              "data": {"name": "byticks"},
              "mark": {"type": "rule", "stroke": "black", "strokeWidth": 1.5},
              "encoding": {"y": {"field": "v", "type": "quantitative"}, "x": {"datum": 3.354}, "x2": {"datum": 3.471}}
            },
            {
              "data": {"values": [{}]},
              "mark": {"type": "rule", "stroke": "black", "strokeWidth": 1.2},
              "encoding": {"x": {"datum": 6.854}, "x2": {"datum": 7.511}, "y": {"datum": 0.413}}
            },
            {
              "data": {"name": "legdots"},
              "mark": {"type": "point", "filled": true, "fill": "black", "size": 50, "opacity": 1},
              "encoding": {"x": {"field": "k", "type": "quantitative"}, "y": {"datum": 0.413}}
            },
            {
              "data": {"values": [{}]},
              "mark": {"type": "rule", "stroke": "black", "strokeWidth": 3},
              "encoding": {"x": {"datum": 6.854}, "x2": {"datum": 7.511}, "y": {"datum": 0.327}}
            },
            {
              "data": {"values": [{}]},
              "mark": {"type": "rule", "stroke": "black", "strokeWidth": 1.3, "strokeDash": [8, 5]},
              "encoding": {"x": {"datum": 6.854}, "x2": {"datum": 7.511}, "y": {"datum": 0.234}}
            },
            {
              "data": {"values": [{}]},
              "mark": {"type": "text", "text": "exp.", "fontSize": 20, "align": "left", "baseline": "alphabetic"},
              "encoding": {"x": {"datum": 7.578}, "y": {"datum": 0.41}}
            },
            {
              "data": {"values": [{}]},
              "mark": {"type": "text", "text": "BD model", "fontSize": 20, "align": "left", "baseline": "alphabetic"},
              "encoding": {"x": {"datum": 7.617}, "y": {"datum": 0.304}}
            },
            {
              "data": {"values": [{}]},
              "mark": {"type": "text", "text": "SD model", "fontSize": 20, "align": "left", "baseline": "alphabetic"},
              "encoding": {"x": {"datum": 7.617}, "y": {"datum": 0.211}}
            },
            {
              "data": {"values": [{}]},
              "mark": {"type": "text", "text": "S\u00a0 component", "fontSize": 20, "align": "left", "baseline": "alphabetic"},
              "encoding": {"x": {"datum": 3.876}, "y": {"datum": 0.407}}
            },
            {
              "data": {"values": [{}]},
              "mark": {"type": "text", "text": "θₑ = 45°", "fontSize": 20, "align": "left", "baseline": "alphabetic"},
              "encoding": {"x": {"datum": 5.334}, "y": {"datum": 0.407}}
            },
            {
              "data": {"values": [{}]},
              "mark": {"type": "text", "text": "(b)", "fontSize": 22, "align": "left", "baseline": "alphabetic"},
              "encoding": {"x": {"datum": 2.461}, "y": {"datum": 0.424}}
            }
          ]
        }
      ]
    }
  ]
}
